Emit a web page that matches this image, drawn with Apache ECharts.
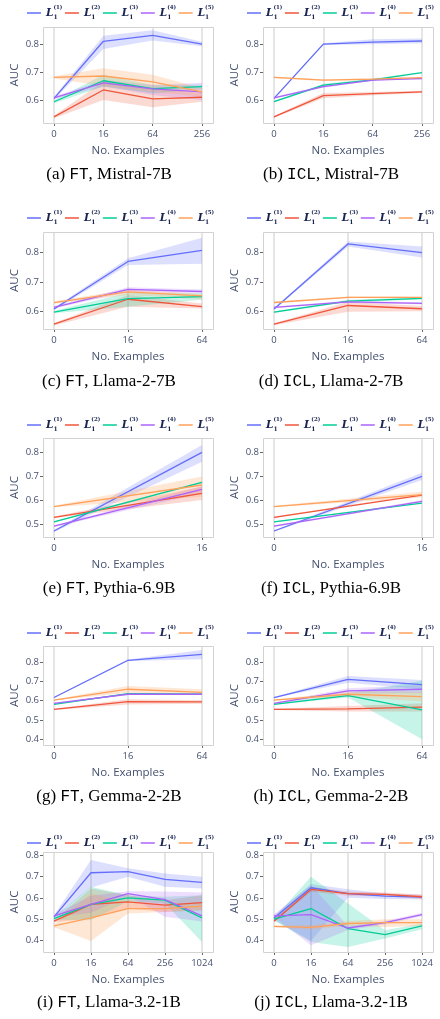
<!DOCTYPE html>
<html>
<head>
<meta charset="utf-8">
<script src="https://cdn.jsdelivr.net/npm/echarts@6/dist/echarts.min.js"></script>
<style>
  html, body { margin: 0; padding: 0; background: #fff; }
  #chart { width: 440px; height: 1019px; }
</style>
</head>
<body>
<div id="chart"></div>
<script>
// series of every panel
const seriesNames = ['L1(1)', 'L1(2)', 'L1(3)', 'L1(4)', 'L1(5)'];
const seriesColors = ['#636efa', '#ef553b', '#00cc96', '#ab63fa', '#ffa15a'];
const bandColors = ['rgba(99,110,250,0.22)', 'rgba(239,85,59,0.22)', 'rgba(0,204,150,0.22)', 'rgba(171,99,250,0.22)', 'rgba(255,161,90,0.25)'];

// x categories
const xMistral = ['0', '16', '64', '256'];
const xLlama2 = ['0', '16', '64'];
const xPythia = ['0', '16'];
const xGemma = ['0', '16', '64'];
const xLlama32 = ['0', '16', '64', '256', '1024'];

// y ranges and tick labels per row
const rowYRange = [[0.518, 0.861], [0.542, 0.868], [0.447, 0.86], [0.37, 0.883], [0.347, 0.814]];
const rowYTicks = [[0.6, 0.7, 0.8], [0.6, 0.7, 0.8], [0.5, 0.6, 0.7, 0.8], [0.4, 0.5, 0.6, 0.7, 0.8], [0.4, 0.5, 0.6, 0.7, 0.8]];

// (a) FT, Mistral-7B
const ftMistralMean = [[0.606, 0.810, 0.831, 0.800], [0.540, 0.636, 0.604, 0.610], [0.594, 0.669, 0.641, 0.648], [0.608, 0.661, 0.640, 0.629], [0.681, 0.686, 0.665, 0.629]];
const ftMistralLow = [[0.601, 0.782, 0.813, 0.792], [0.535, 0.600, 0.574, 0.594], [0.589, 0.648, 0.624, 0.638], [0.603, 0.648, 0.618, 0.600], [0.677, 0.650, 0.630, 0.612]];
const ftMistralHigh = [[0.611, 0.830, 0.849, 0.808], [0.545, 0.666, 0.642, 0.624], [0.599, 0.690, 0.654, 0.656], [0.613, 0.672, 0.654, 0.662], [0.685, 0.714, 0.690, 0.642]];

// (b) ICL, Mistral-7B
const iclMistralMean = [[0.606, 0.800, 0.807, 0.811], [0.540, 0.616, 0.623, 0.629], [0.594, 0.653, 0.672, 0.698], [0.608, 0.648, 0.671, 0.677], [0.681, 0.671, 0.675, 0.680]];
const iclMistralLow = [[0.603, 0.797, 0.799, 0.803], [0.537, 0.606, 0.617, 0.625], [0.591, 0.648, 0.668, 0.695], [0.605, 0.644, 0.668, 0.674], [0.678, 0.668, 0.672, 0.677]];
const iclMistralHigh = [[0.609, 0.803, 0.817, 0.820], [0.543, 0.625, 0.629, 0.633], [0.597, 0.658, 0.676, 0.701], [0.611, 0.652, 0.674, 0.680], [0.684, 0.674, 0.678, 0.683]];

// (c) FT, Llama-2-7B
const ftLlama2Mean = [[0.609, 0.769, 0.806], [0.558, 0.642, 0.617], [0.599, 0.644, 0.651], [0.615, 0.675, 0.668], [0.631, 0.667, 0.653]];
const ftLlama2Low = [[0.605, 0.757, 0.761], [0.554, 0.617, 0.611], [0.595, 0.617, 0.640], [0.611, 0.666, 0.662], [0.627, 0.656, 0.642]];
const ftLlama2High = [[0.613, 0.780, 0.849], [0.562, 0.656, 0.628], [0.603, 0.664, 0.662], [0.619, 0.682, 0.675], [0.635, 0.675, 0.660]];

// (d) ICL, Llama-2-7B
const iclLlama2Mean = [[0.609, 0.828, 0.799], [0.558, 0.621, 0.610], [0.599, 0.636, 0.645], [0.615, 0.633, 0.628], [0.631, 0.648, 0.648]];
const iclLlama2Low = [[0.606, 0.819, 0.782], [0.555, 0.600, 0.602], [0.596, 0.632, 0.641], [0.612, 0.629, 0.624], [0.628, 0.645, 0.645]];
const iclLlama2High = [[0.612, 0.836, 0.819], [0.561, 0.634, 0.619], [0.602, 0.640, 0.649], [0.618, 0.637, 0.632], [0.634, 0.651, 0.651]];

// (e) FT, Pythia-6.9B
const ftPythiaMean = [[0.472, 0.800], [0.529, 0.629], [0.510, 0.675], [0.492, 0.646], [0.574, 0.664]];
const ftPythiaLow = [[0.468, 0.761], [0.526, 0.601], [0.507, 0.670], [0.489, 0.629], [0.571, 0.615]];
const ftPythiaHigh = [[0.476, 0.831], [0.532, 0.657], [0.513, 0.680], [0.495, 0.660], [0.577, 0.699]];

// (f) ICL, Pythia-6.9B
const iclPythiaMean = [[0.472, 0.700], [0.529, 0.622], [0.510, 0.588], [0.492, 0.596], [0.574, 0.624]];
const iclPythiaLow = [[0.469, 0.685], [0.526, 0.618], [0.507, 0.584], [0.489, 0.591], [0.571, 0.612]];
const iclPythiaHigh = [[0.475, 0.715], [0.532, 0.626], [0.513, 0.592], [0.495, 0.601], [0.577, 0.636]];

// (g) FT, Gemma-2-2B
const ftGemmaMean = [[0.616, 0.809, 0.840], [0.555, 0.595, 0.593], [0.581, 0.636, 0.634], [0.586, 0.633, 0.633], [0.603, 0.659, 0.643]];
const ftGemmaLow = [[0.613, 0.805, 0.814], [0.552, 0.580, 0.584], [0.578, 0.632, 0.630], [0.583, 0.629, 0.629], [0.600, 0.641, 0.629]];
const ftGemmaHigh = [[0.619, 0.813, 0.862], [0.558, 0.607, 0.602], [0.584, 0.640, 0.638], [0.589, 0.637, 0.637], [0.606, 0.676, 0.659]];

// (h) ICL, Gemma-2-2B
const iclGemmaMean = [[0.616, 0.710, 0.683], [0.555, 0.557, 0.566], [0.581, 0.626, 0.552], [0.586, 0.650, 0.659], [0.603, 0.633, 0.621]];
const iclGemmaLow = [[0.613, 0.693, 0.659], [0.552, 0.543, 0.543], [0.578, 0.616, 0.400], [0.583, 0.638, 0.638], [0.600, 0.621, 0.595]];
const iclGemmaHigh = [[0.619, 0.728, 0.707], [0.558, 0.572, 0.586], [0.584, 0.638, 0.703], [0.589, 0.664, 0.681], [0.606, 0.647, 0.647]];

// (i) FT, Llama-3.2-1B
const ftLlama32Mean = [[0.511, 0.717, 0.722, 0.686, 0.672], [0.491, 0.569, 0.581, 0.566, 0.578], [0.503, 0.569, 0.600, 0.589, 0.506], [0.516, 0.569, 0.620, 0.592, 0.516], [0.469, 0.506, 0.550, 0.550, 0.561]];
const ftLlama32Low = [[0.503, 0.648, 0.698, 0.652, 0.644], [0.486, 0.503, 0.550, 0.534, 0.542], [0.498, 0.495, 0.584, 0.573, 0.394], [0.511, 0.530, 0.609, 0.512, 0.490], [0.462, 0.398, 0.527, 0.534, 0.542]];
const ftLlama32High = [[0.519, 0.777, 0.738, 0.714, 0.698], [0.496, 0.644, 0.612, 0.589, 0.612], [0.508, 0.652, 0.612, 0.605, 0.612], [0.521, 0.610, 0.631, 0.630, 0.625], [0.476, 0.620, 0.581, 0.566, 0.580]];

// (j) ICL, Llama-3.2-1B
const iclLlama32Mean = [[0.506, 0.647, 0.620, 0.608, 0.603], [0.491, 0.639, 0.620, 0.616, 0.605], [0.500, 0.550, 0.456, 0.428, 0.469], [0.516, 0.522, 0.459, 0.484, 0.522], [0.467, 0.462, 0.480, 0.484, 0.484]];
const iclLlama32Low = [[0.495, 0.400, 0.600, 0.595, 0.592], [0.486, 0.628, 0.610, 0.607, 0.594], [0.495, 0.394, 0.370, 0.410, 0.453], [0.510, 0.378, 0.450, 0.476, 0.514], [0.463, 0.452, 0.468, 0.464, 0.468]];
const iclLlama32High = [[0.517, 0.665, 0.640, 0.620, 0.614], [0.496, 0.652, 0.630, 0.625, 0.616], [0.505, 0.698, 0.573, 0.448, 0.480], [0.522, 0.660, 0.468, 0.492, 0.530], [0.471, 0.472, 0.492, 0.500, 0.500]];

const panels = [
  { cats: xMistral, mean: ftMistralMean, low: ftMistralLow, high: ftMistralHigh, caption: '(a) {tt|FT}, Mistral-7B' },
  { cats: xMistral, mean: iclMistralMean, low: iclMistralLow, high: iclMistralHigh, caption: '(b) {tt|ICL}, Mistral-7B' },
  { cats: xLlama2, mean: ftLlama2Mean, low: ftLlama2Low, high: ftLlama2High, caption: '(c) {tt|FT}, Llama-2-7B' },
  { cats: xLlama2, mean: iclLlama2Mean, low: iclLlama2Low, high: iclLlama2High, caption: '(d) {tt|ICL}, Llama-2-7B' },
  { cats: xPythia, mean: ftPythiaMean, low: ftPythiaLow, high: ftPythiaHigh, caption: '(e) {tt|FT}, Pythia-6.9B' },
  { cats: xPythia, mean: iclPythiaMean, low: iclPythiaLow, high: iclPythiaHigh, caption: '(f) {tt|ICL}, Pythia-6.9B' },
  { cats: xGemma, mean: ftGemmaMean, low: ftGemmaLow, high: ftGemmaHigh, caption: '(g) {tt|FT}, Gemma-2-2B' },
  { cats: xGemma, mean: iclGemmaMean, low: iclGemmaLow, high: iclGemmaHigh, caption: '(h) {tt|ICL}, Gemma-2-2B' },
  { cats: xLlama32, mean: ftLlama32Mean, low: ftLlama32Low, high: ftLlama32High, caption: '(i) {tt|FT}, Llama-3.2-1B' },
  { cats: xLlama32, mean: iclLlama32Mean, low: iclLlama32Low, high: iclLlama32High, caption: '(j) {tt|ICL}, Llama-3.2-1B' }
];

// layout (pixels)
const colLeft = [43, 263];
const frameW = 170;
const pad = 11;
const rowTop = [27, 232, 438, 646, 852];
const rowH = [96, 97, 99, 99, 100];
const legendLeft = [27, 247];
const legendMid = [13, 218, 425, 633, 843];
const captionMid = [175, 382, 589, 797, 1003];
const captionX = [109, 331];

const sans = '"Open Sans", sans-serif';
const axisColor = '#44506e';

const grid = [], xAxis = [], yAxis = [], series = [], legend = [], title = [], graphic = [];

panels.forEach((p, i) => {
  const row = Math.floor(i / 2), col = i % 2;
  grid.push({ left: colLeft[col] + pad, top: rowTop[row], width: frameW - 2 * pad, height: rowH[row] });
  graphic.push({
    type: 'rect', z: 10, silent: true,
    shape: { x: colLeft[col] + 0.5, y: rowTop[row] + 0.5, width: frameW, height: rowH[row] },
    style: { fill: 'none', stroke: '#d2d2d2', lineWidth: 1 }
  });
  xAxis.push({
    gridIndex: i, type: 'category', data: p.cats, boundaryGap: false,
    axisLine: { show: false },
    axisTick: { show: true, length: 3, interval: 0, lineStyle: { color: '#666' } },
    axisLabel: { interval: 0, fontSize: 9.5, color: axisColor, fontFamily: sans, margin: 6 },
    splitLine: { show: true, interval: 0, lineStyle: { color: '#dcdcdc', width: 1.5 } },
    name: 'No. Examples', nameLocation: 'middle', nameGap: 22,
    nameTextStyle: { fontSize: 11.5, color: axisColor, fontFamily: sans }
  });
  const ticks = rowYTicks[row];
  yAxis.push({
    gridIndex: i, type: 'value', min: rowYRange[row][0], max: rowYRange[row][1], offset: pad,
    axisLine: { show: false },
    axisTick: { show: true, length: 3, customValues: ticks, lineStyle: { color: '#666' } },
    axisLabel: { customValues: ticks, fontSize: 9.5, color: axisColor, fontFamily: sans, margin: 4 },
    splitLine: { show: false },
    name: 'AUC', nameLocation: 'middle', nameGap: 22,
    nameTextStyle: { fontSize: 11.5, color: axisColor, fontFamily: sans }
  });
  p.mean.forEach((m, s) => {
    const stack = 'band' + i + '_' + s;
    series.push({
      type: 'line', xAxisIndex: i, yAxisIndex: i, stack, data: p.low[s],
      symbol: 'none', silent: true, lineStyle: { opacity: 0 }, z: 1
    });
    series.push({
      type: 'line', xAxisIndex: i, yAxisIndex: i, stack,
      data: p.high[s].map((h, k) => +(h - p.low[s][k]).toFixed(4)),
      symbol: 'none', silent: true, lineStyle: { opacity: 0 },
      areaStyle: { color: bandColors[s], opacity: 1 }, z: 1
    });
    series.push({
      name: seriesNames[s], type: 'line', xAxisIndex: i, yAxisIndex: i, data: m,
      symbol: 'none', lineStyle: { width: 1.3, color: seriesColors[s] },
      itemStyle: { color: seriesColors[s] }, z: 3
    });
  });
  legend.push({
    data: seriesNames, left: legendLeft[col], top: legendMid[row] - 8, width: 230, padding: 0,
    itemWidth: 14, itemHeight: 1.5, itemGap: 2.5, icon: 'rect', selectedMode: false,
    formatter: name => '{l|L}{s|1}{p|(' + (seriesNames.indexOf(name) + 1) + ')}',
    textStyle: {
      color: '#1b2552',
      rich: {
        l: { fontFamily: 'DejaVu Serif', fontStyle: 'italic', fontWeight: 'bold', fontSize: 10.5, lineHeight: 16, verticalAlign: 'middle' },
        s: { fontFamily: 'DejaVu Serif', fontWeight: 'bold', fontSize: 6, lineHeight: 8, width: 0.01, verticalAlign: 'bottom', padding: [0, 0, 1, 0] },
        p: { fontFamily: 'DejaVu Serif', fontWeight: 'bold', fontSize: 5.5, lineHeight: 8, verticalAlign: 'top' }
      }
    }
  });
  title.push({
    text: p.caption, left: captionX[col], top: captionMid[row] - 9, textAlign: 'center', padding: 0,
    textStyle: {
      fontFamily: '"Liberation Serif", serif', fontWeight: 'normal', fontSize: 17, lineHeight: 18, color: '#000',
      rich: { tt: { fontFamily: '"Liberation Mono", monospace', fontSize: 16, lineHeight: 18, color: '#000' } }
    }
  });
});

const chart = echarts.init(document.getElementById('chart'));
chart.setOption({
  animation: false,
  backgroundColor: '#fff',
  title, legend, grid, xAxis, yAxis, series, graphic
});
</script>
</body>
</html>
